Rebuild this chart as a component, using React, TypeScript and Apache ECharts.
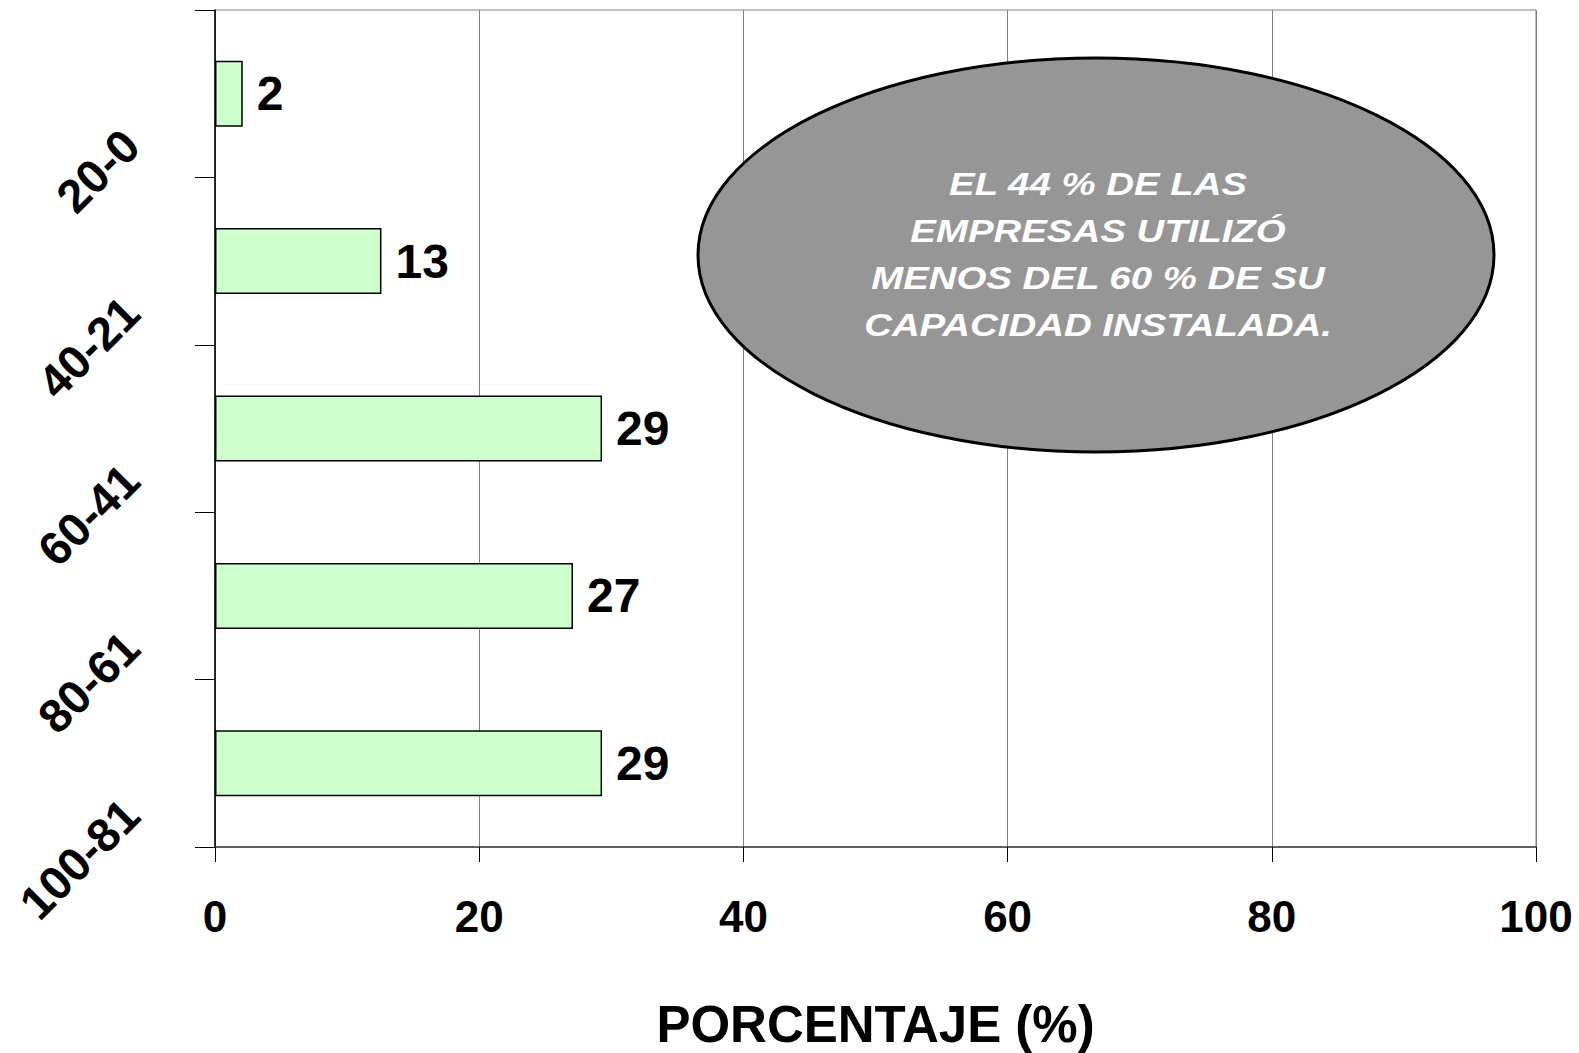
import React, { useEffect, useRef } from "react";
import * as echarts from "echarts";

const categories = ["20-0", "40-21", "60-41", "80-61", "100-81"];
const values = [2.1, 12.6, 29.3, 27.1, 29.3];
const xTicks = { min: 0, max: 100, interval: 20 };
const axisTitle = "PORCENTAJE (%)";
const noteLines = [
  "EL 44 % DE LAS",
  "EMPRESAS UTILIZÓ",
  "MENOS DEL 60 % DE SU",
  "CAPACIDAD INSTALADA.",
];

const FONT = "'Liberation Sans', Arial, sans-serif";

export default function App() {
  const ref = useRef<HTMLDivElement>(null);
  useEffect(() => {
    if (!ref.current) return;
    const chart = echarts.init(ref.current, null, { renderer: "svg" });
    chart.setOption({
      animation: false,
      backgroundColor: "#ffffff",
      grid: {
        left: 215,
        right: 43,
        top: 10,
        bottom: 206,
        outerBoundsMode: "none",
        containLabel: false,
        show: true,
        borderColor: "#808080",
        borderWidth: 1,
      },
      xAxis: {
        type: "value",
        min: xTicks.min,
        max: xTicks.max,
        interval: xTicks.interval,
        name: axisTitle,
        nameLocation: "middle",
        nameGap: 152,
        nameTextStyle: {
          fontFamily: FONT,
          fontSize: 51,
          lineHeight: 51,
          fontWeight: "bold",
          color: "#000",
        },
        axisLine: { show: true, lineStyle: { color: "#404040", width: 1.5 } },
        axisTick: { show: true, length: 15, lineStyle: { color: "#000" } },
        axisLabel: {
          fontFamily: FONT,
          fontSize: 44,
          fontWeight: "bold",
          color: "#000",
          margin: 47,
        },
        splitLine: { show: true, lineStyle: { color: "#808080", width: 1 } },
      },
      yAxis: {
        type: "category",
        inverse: true,
        data: categories,
        axisLine: { show: true, lineStyle: { color: "#000", width: 1.5 } },
        axisTick: { show: true, length: 20, lineStyle: { color: "#000" } },
        axisLabel: {
          rotate: 45,
          margin: 40,
          fontFamily: FONT,
          fontSize: 47,
          fontWeight: "bold",
          color: "#000",
          padding: [0, 62, 0, 0],
        },
        splitLine: { show: false },
      },
      series: [
        {
          type: "bar",
          data: values,
          barWidth: 66,
          itemStyle: { color: "#CCFFCC", borderColor: "#000", borderWidth: 1.5 },
          label: {
            show: true,
            position: "right",
            distance: 14,
            fontFamily: FONT,
            fontSize: 48,
            fontWeight: "bold",
            color: "#000",
            formatter: (p: any) => String(Math.round(p.value)),
          },
        },
      ],
      graphic: [
        {
          type: "ellipse",
          shape: { cx: 1096, cy: 255, rx: 398, ry: 197 },
          style: { fill: "#969696", stroke: "#000", lineWidth: 3 },
          z: 10,
        },
        {
          type: "text",
          x: 1098,
          y: 254,
          scaleX: 1.2,
          z: 11,
          style: {
            text: noteLines.join("\n"),
            fill: "#ffffff",
            font: `italic bold 32px ${FONT}`,
            lineHeight: 47,
            align: "center",
            verticalAlign: "middle",
          },
        },
      ],
    });
    return () => chart.dispose();
  }, []);
  return (
    <div
      ref={ref}
      style={{ position: "absolute", left: 0, top: 0, width: 1579, height: 1053 }}
    />
  );
}
